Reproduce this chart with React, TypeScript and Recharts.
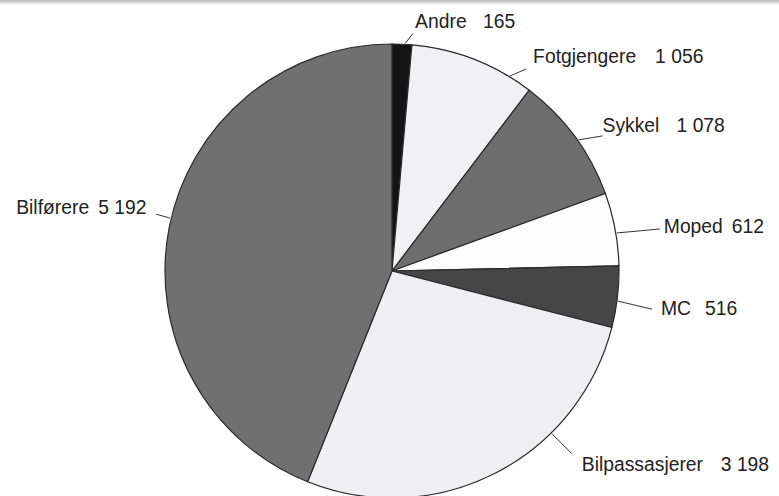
import React from 'react';
import { PieChart, Pie, Cell } from 'recharts';

// road users injured, by group (clockwise from 12 o'clock)
const categories = ['Andre', 'Fotgjengere', 'Sykkel', 'Moped', 'MC', 'Bilpassasjerer', 'Bilførere'];
const values = [165, 1056, 1078, 612, 516, 3198, 5192];

const FILLS = ['#141414', '#f1f0f2', '#6e6e6e', '#fdfdfd', '#464646', '#efeef1', '#707070'];

// leader line placement per slice: angle on rim (deg clockwise from top), line vector,
// text offset from line end, and offset of the number from the text start
const LABEL_LAYOUT = [
  { angle: 3.3, lx: 8, ly: -10, tx: 2, ty: -5, vx: 68 },
  { angle: 31.2, lx: 16, ly: -7, tx: 7, ty: -6, vx: 122 },
  { angle: 54.9, lx: 24, ly: -4, tx: 0, ty: -4, vx: 74 },
  { angle: 80.4, lx: 43, ly: -4, tx: 4, ty: 4, vx: 68 },
  { angle: 97.6, lx: 34, ly: 8, tx: 9, ty: 6, vx: 44 },
  { angle: 135.5, lx: 20, ly: 20, tx: 10, ty: 17, vx: 139 },
  { angle: 283.4, lx: -14, ly: -4, tx: -140, ty: 0, vx: 82 },
];

const data = categories.map((name, i) => ({ name, value: values[i] }));

const fmt = (n: number) => String(n).replace(/\B(?=(\d{3})+(?!\d))/g, ' ');

const FONT = '"Liberation Sans", Arial, sans-serif';
const SQUEEZE = 0.92;

const renderLabel = (props: any) => {
  const { cx, cy, outerRadius, index } = props;
  const l = LABEL_LAYOUT[index];
  const rad = (l.angle * Math.PI) / 180;
  const sx = cx + (outerRadius + 1) * Math.sin(rad);
  const sy = cy - (outerRadius + 1) * Math.cos(rad);
  const ex = sx + l.lx;
  const ey = sy + l.ly;
  const tx = ex + l.tx;
  const ty = ey + l.ty;
  return (
    <g key={`lbl-${index}`}>
      <line x1={sx} y1={sy} x2={ex} y2={ey} stroke="#333" strokeWidth={1} />
      <g transform={`translate(${tx},${ty}) scale(${SQUEEZE},1)`}>
        <text x={0} y={0} fill="#222" fontSize={21} fontFamily={FONT} textAnchor="start">
          {categories[index]}
        </text>
        <text x={l.vx / SQUEEZE} y={0} fill="#222" fontSize={21} fontFamily={FONT} textAnchor="start">
          {fmt(values[index])}
        </text>
      </g>
    </g>
  );
};

export default function App() {
  return (
    <div style={{ position: 'fixed', left: 0, top: 0, width: 779, height: 496, background: '#fff' }}>
      <div
        style={{
          position: 'absolute',
          left: 0,
          top: 0,
          width: 779,
          height: 5,
          background: 'linear-gradient(to bottom, #b5b5b5, #ffffff)',
        }}
      />
      <PieChart width={779} height={496} margin={{ top: 0, right: 0, bottom: 0, left: 0 }}>
        <Pie
          data={data}
          dataKey="value"
          nameKey="name"
          cx={392}
          cy={271}
          outerRadius={227}
          startAngle={90}
          endAngle={-270}
          stroke="#2a2a2a"
          strokeWidth={1.2}
          labelLine={false}
          label={renderLabel}
          isAnimationActive={false}
        >
          {data.map((entry, index) => (
            <Cell key={`cell-${index}`} fill={FILLS[index]} />
          ))}
        </Pie>
      </PieChart>
    </div>
  );
}
